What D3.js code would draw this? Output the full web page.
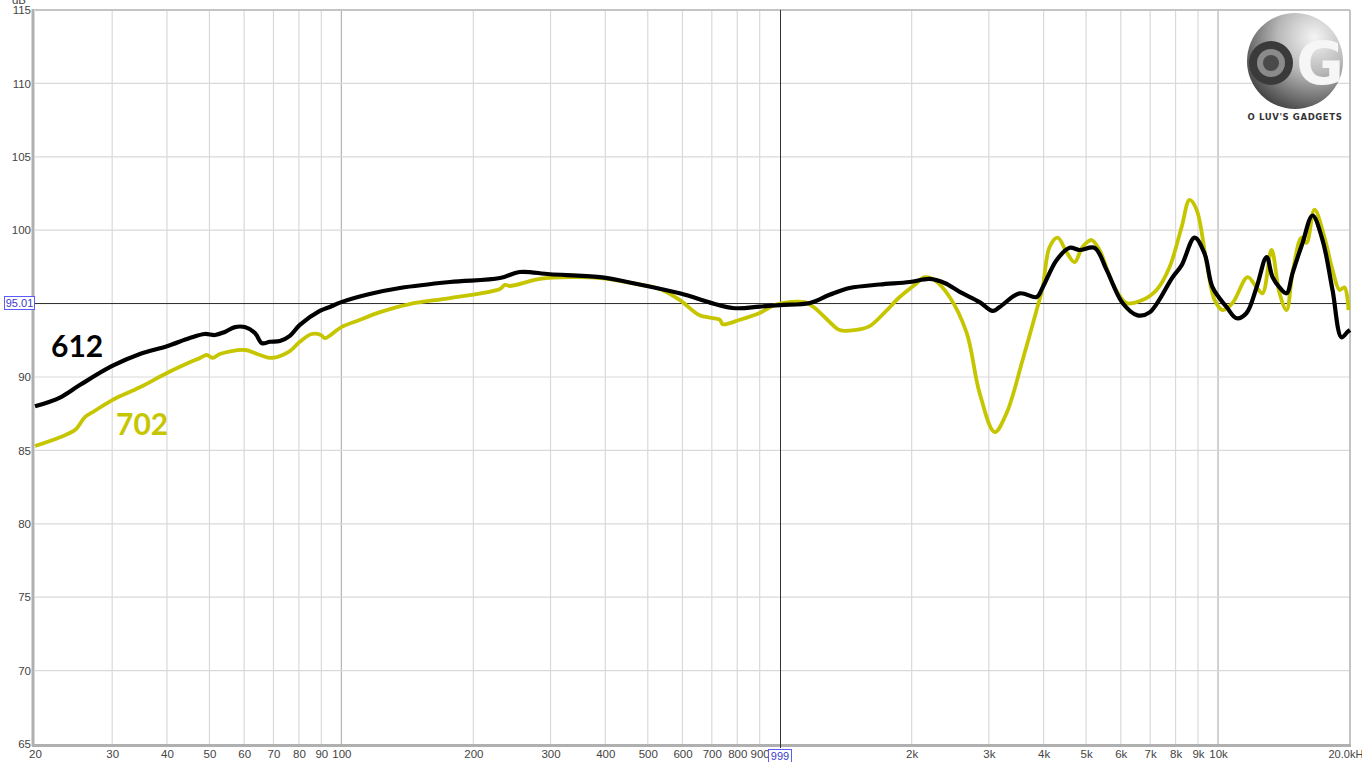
<!DOCTYPE html>
<html>
<head>
<meta charset="utf-8">
<script src="https://cdn.jsdelivr.net/npm/d3@7"></script>
<style>
  html, body { margin: 0; padding: 0; background: #fff; }
  svg { display: block; }
</style>
</head>
<body>
<div id="chart"></div>
<script>
// ---- data (Hz / dB) ----
const freq612 = [20, 22.8, 25.3, 30, 34.7, 40, 45.1, 48.8, 51.5, 54.2, 57.2, 60.2, 63.5, 65.9, 68.7, 72.4, 76.3, 80.4, 89.3, 94.1,
  100, 116, 136, 177, 230, 255, 299, 389, 479, 591, 781, 900, 1000, 1171, 1300, 1444, 1690, 1979, 2198, 2378,
  2574, 2858, 3060, 3176, 3526, 3856, 3980, 4284, 4586, 4832, 5228, 5568, 6056, 6552, 6980, 7876, 8256, 8840, 9318, 9718,
  10458, 11022, 11616, 12242, 12902, 13316, 13812, 14330, 14790, 15586, 16426, 17312, 18244, 19126, 19740, 20000];
const db612 = [88.0, 88.6, 89.45, 90.75, 91.57, 92.1, 92.66, 92.93, 92.86, 93.07, 93.4, 93.4, 93.0, 92.3, 92.4, 92.45, 92.8, 93.55, 94.5, 94.77,
  95.1, 95.65, 96.06, 96.47, 96.74, 97.15, 97.0, 96.8, 96.3, 95.7, 94.7, 94.8, 94.9, 95.04, 95.6, 96.06, 96.3, 96.47, 96.68, 96.4,
  95.8, 95.1, 94.5, 94.77, 95.7, 95.45, 96.1, 97.97, 98.8, 98.65, 98.8, 97.3, 95.04, 94.2, 94.4, 96.8, 97.6, 99.5, 98.4, 96.1,
  94.77, 94.0, 94.36, 96.1, 98.17, 96.8, 96.1, 95.7, 97.08, 99.13, 101.0, 99.33, 95.93, 92.7, 93.07, 93.2];

const freq702 = [20, 22.8, 24.7, 26.0, 27.4, 30, 34.7, 40, 45.1, 47.6, 49.3, 50.9, 52.8, 60.2, 65.2, 69.4, 76.3, 80.4, 85.6, 89.8,
  91.7, 100, 110, 122, 143, 177, 230, 236, 242, 284, 332, 389, 479, 533, 591, 657, 730, 741, 811, 900,
  974, 1054, 1140, 1202, 1300, 1370, 1483, 1604, 1736, 1878, 2031, 2142, 2257, 2441, 2670, 2858, 3093, 3294, 3582, 3856,
  3980, 4128, 4306, 4514, 4708, 4908, 5146, 5366, 5744, 6186, 6728, 7240, 7754, 8256, 8610, 8934, 9416, 9818, 10240, 10794,
  11678, 12242, 12634, 13244, 13812, 14330, 14790, 15504, 15916, 16600, 17496, 18244, 18930, 19432, 19844];
const db702 = [85.3, 85.9, 86.4, 87.27, 87.7, 88.43, 89.3, 90.27, 91.0, 91.3, 91.5, 91.3, 91.57, 91.84, 91.5, 91.3, 91.77, 92.4, 92.93, 92.86,
  92.65, 93.4, 93.88, 94.4, 94.97, 95.38, 96.0, 96.27, 96.2, 96.68, 96.8, 96.74, 96.3, 96.0, 95.25, 94.2, 93.9, 93.6, 93.9, 94.36,
  94.9, 95.1, 95.1, 94.7, 93.75, 93.2, 93.2, 93.47, 94.4, 95.45, 96.27, 96.8, 96.6, 95.45, 93.0, 88.9, 86.25, 87.55, 91.16, 94.56,
  96.1, 98.86, 99.5, 98.5, 97.83, 98.86, 99.33, 98.65, 96.4, 95.04, 95.25, 95.93, 97.5, 100.2, 102.06, 101.4, 97.77, 95.25, 94.56, 95.04,
  96.8, 96.1, 95.7, 98.65, 95.7, 94.56, 97.1, 99.5, 99.13, 101.4, 99.5, 97.3, 95.93, 96.1, 94.56];

const yTicks = [65, 70, 75, 80, 85, 90, 95, 100, 105, 110, 115];
const xGrid = [30, 40, 50, 60, 70, 80, 90, 100, 200, 300, 400, 500, 600, 700, 800, 900, 2000, 3000, 4000, 5000, 6000, 7000, 8000, 9000, 10000];
const xTicks = [20, 30, 40, 50, 60, 70, 80, 90, 100, 200, 300, 400, 500, 600, 700, 800, 900, 2000, 3000, 4000, 5000, 6000, 7000, 8000, 9000, 10000, 20000];
const xTickLabels = ["20", "30", "40", "50", "60", "70", "80", "90", "100", "200", "300", "400", "500", "600", "700", "800", "900",
  "2k", "3k", "4k", "5k", "6k", "7k", "8k", "9k", "10k", "20.0kHz"];
const cursorDb = 95.01;
const cursorHz = 999;

// ---- layout ----
const width = 1362, height = 762;
const margin = {left: 35, right: 1350, top: 10, bottom: 744};

const svg = d3.select("#chart").append("svg")
    .attr("width", width)
    .attr("height", height)
    .style("font-family", "'Liberation Sans', Arial, sans-serif");

const x = d3.scaleLog().domain([20, 20000]).range([margin.left, margin.right]);
const y = d3.scaleLinear().domain([65, 115]).range([margin.bottom, margin.top]);

// grid
svg.append("g")
    .selectAll("line")
    .data(xGrid)
    .join("line")
    .attr("x1", d => x(d)).attr("x2", d => x(d))
    .attr("y1", margin.top).attr("y2", margin.bottom)
    .attr("stroke", d => (d === 100 || d === 10000) ? "#b4b4b4" : "#d9d9d9")
    .attr("stroke-width", 1.2);

svg.append("g")
    .selectAll("line")
    .data(yTicks.filter(d => d > 65 && d < 115))
    .join("line")
    .attr("x1", margin.left).attr("x2", margin.right)
    .attr("y1", d => y(d)).attr("y2", d => y(d))
    .attr("stroke", "#d9d9d9")
    .attr("stroke-width", 1.2);

// frame
svg.append("line").attr("x1", margin.left).attr("x2", margin.right).attr("y1", margin.top).attr("y2", margin.top)
    .attr("stroke", "#c4c4c4").attr("stroke-width", 2);
svg.append("line").attr("x1", margin.right).attr("x2", margin.right).attr("y1", margin.top).attr("y2", margin.bottom)
    .attr("stroke", "#c4c4c4").attr("stroke-width", 2);
svg.append("line").attr("x1", margin.left - 2).attr("x2", margin.left - 2).attr("y1", margin.top - 1).attr("y2", margin.bottom + 2)
    .attr("stroke", "#b0b0b0").attr("stroke-width", 3);
svg.append("line").attr("x1", margin.left - 3).attr("x2", margin.right + 1).attr("y1", margin.bottom + 1.5).attr("y2", margin.bottom + 1.5)
    .attr("stroke", "#b0b0b0").attr("stroke-width", 3);

// y axis labels (95 sits under the cursor box)
svg.append("g")
    .attr("transform", `translate(${margin.left - 4},0)`)
    .call(d3.axisLeft(y).tickValues(yTicks.filter(d => d !== 95)).tickSize(0).tickPadding(0))
    .call(g => g.select(".domain").remove())
    .call(g => g.selectAll("text").attr("fill", "#444").style("font-size", "11.5px")
        .style("font-family", "'Liberation Sans', Arial, sans-serif"));

svg.append("text")
    .attr("x", 19).attr("y", 4)
    .attr("text-anchor", "middle")
    .attr("fill", "#444")
    .style("font-size", "11.5px")
    .text("dB");

// x axis labels
svg.append("g")
    .attr("transform", `translate(0,${margin.bottom + 6})`)
    .call(d3.axisBottom(x).tickValues(xTicks).tickSize(0).tickPadding(0)
        .tickFormat((d, i) => xTickLabels[i]))
    .call(g => g.select(".domain").remove())
    .call(g => g.selectAll("text").attr("fill", "#444").style("font-size", "11.5px")
        .style("font-family", "'Liberation Sans', Arial, sans-serif"))
    .call(g => g.selectAll(".tick").filter(d => d === 20000).select("text")
        .attr("text-anchor", "start").attr("dx", -22).style("font-size", "11px"));

// cursor lines
svg.append("line")
    .attr("x1", margin.left).attr("x2", margin.right)
    .attr("y1", Math.round(y(cursorDb)) + 0.5).attr("y2", Math.round(y(cursorDb)) + 0.5)
    .attr("stroke", "#333").attr("stroke-width", 1);
svg.append("line")
    .attr("x1", Math.round(x(cursorHz)) + 0.5).attr("x2", Math.round(x(cursorHz)) + 0.5)
    .attr("y1", margin.top).attr("y2", margin.bottom + 4)
    .attr("stroke", "#333").attr("stroke-width", 1);

// curves
const line = d3.line()
    .x(d => x(d[0]))
    .y(d => y(d[1]))
    .curve(d3.curveCatmullRom.alpha(0.5));

svg.append("path")
    .datum(d3.zip(freq702, db702))
    .attr("fill", "none")
    .attr("stroke", "#c6c600")
    .attr("stroke-width", 3.8)
    .attr("stroke-linejoin", "round")
    .attr("d", line);

svg.append("path")
    .datum(d3.zip(freq612, db612))
    .attr("fill", "none")
    .attr("stroke", "#000")
    .attr("stroke-width", 4.2)
    .attr("stroke-linejoin", "round")
    .attr("d", line);

// cursor value boxes
function cursorBox(cx, cy, w, label) {
    svg.append("rect")
        .attr("x", cx).attr("y", cy).attr("width", w).attr("height", 13)
        .attr("fill", "#fff").attr("stroke", "#5a5aff").attr("stroke-width", 1);
    svg.append("text")
        .attr("x", cx + w / 2).attr("y", cy + 10.5)
        .attr("text-anchor", "middle")
        .attr("fill", "#3a3acc")
        .style("font-size", "11px")
        .text(label);
}
cursorBox(4.5, Math.round(y(cursorDb)) - 6.5, 30, cursorDb.toFixed(2));
cursorBox(Math.round(x(cursorHz)) - 11.5, margin.bottom + 5.5, 23, String(cursorHz));

// series labels
svg.append("text")
    .attr("x", 51).attr("y", 357)
    .attr("fill", "#000")
    .style("font-family", "Lato, 'Open Sans', sans-serif")
    .style("font-weight", "bold")
    .style("font-size", "30px")
    .text("612");
svg.append("text")
    .attr("x", 116).attr("y", 435)
    .attr("fill", "#c6c600")
    .style("font-family", "Lato, 'Open Sans', sans-serif")
    .style("font-weight", "bold")
    .style("font-size", "30px")
    .text("702");

// logo
const defs = svg.append("defs");
const grad = defs.append("radialGradient")
    .attr("id", "logoGrad")
    .attr("cx", "70%").attr("cy", "25%").attr("r", "85%");
grad.append("stop").attr("offset", "0%").attr("stop-color", "#f4f4f4");
grad.append("stop").attr("offset", "45%").attr("stop-color", "#b8b8b8");
grad.append("stop").attr("offset", "100%").attr("stop-color", "#3c3c3c");

const logo = svg.append("g").attr("transform", "translate(1295,61)");
logo.append("circle").attr("r", 48).attr("fill", "url(#logoGrad)");
logo.append("circle").attr("cx", -24).attr("cy", 2).attr("r", 22).attr("fill", "#3a3a3a");
logo.append("circle").attr("cx", -24).attr("cy", 2).attr("r", 14).attr("fill", "#8a8a8a");
logo.append("circle").attr("cx", -24).attr("cy", 2).attr("r", 8).attr("fill", "#4a4a4a");
logo.append("text")
    .attr("x", 25).attr("y", 23)
    .attr("text-anchor", "middle")
    .attr("fill", "#f6f6f6")
    .style("font-family", "'DejaVu Sans', sans-serif")
    .style("font-weight", "bold")
    .style("font-size", "58px")
    .text("G");
logo.append("text")
    .attr("x", 0).attr("y", 59)
    .attr("text-anchor", "middle")
    .attr("fill", "#333")
    .style("font-family", "'DejaVu Sans', sans-serif")
    .style("font-weight", "bold")
    .style("font-size", "8.5px")
    .style("letter-spacing", "0.6px")
    .text("O LUV'S GADGETS");
</script>
</body>
</html>
